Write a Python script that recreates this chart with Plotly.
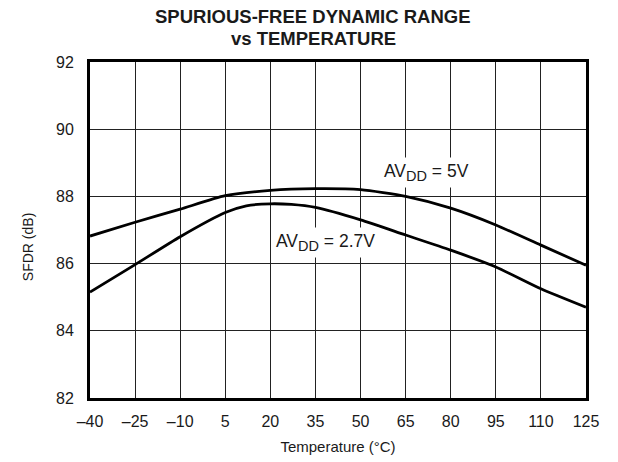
import plotly.graph_objects as go

temps = [-40, -25, -10, 5, 20, 35, 50, 65, 80, 95, 110, 125]
sfdr_5v = [86.82, 87.23, 87.62, 88.02, 88.18, 88.23, 88.2, 88.0, 87.65, 87.15, 86.55, 85.95]
temps_27 = [-40, -25, -10, 5, 12, 20, 27, 35, 50, 65, 80, 95, 110, 125]
sfdr_27v = [85.15, 85.97, 86.8, 87.52, 87.72, 87.78, 87.76, 87.67, 87.3, 86.85, 86.4, 85.9, 85.25, 84.7]

x_ticks = [-40, -25, -10, 5, 20, 35, 50, 65, 80, 95, 110, 125]
x_ticktext = ["–40", "–25", "–10", "5", "20", "35", "50", "65", "80", "95", "110", "125"]
y_ticks = [82, 84, 86, 88, 90, 92]

FONT = "Liberation Sans, Arial, sans-serif"
TXT = "#1a1a1a"

fig = go.Figure()
fig.add_trace(go.Scatter(x=temps, y=sfdr_5v, mode="lines",
                         line=dict(color="black", width=2.8, shape="spline", smoothing=0.6),
                         showlegend=False, hoverinfo="skip"))
fig.add_trace(go.Scatter(x=temps_27, y=sfdr_27v, mode="lines",
                         line=dict(color="black", width=2.8, shape="spline", smoothing=0.6),
                         showlegend=False, hoverinfo="skip"))

SUB = "<sub><span style='font-size:14.5px'>DD</span></sub>"
fig.add_annotation(x=56.5, y=88.72, xref="x", yref="y", xanchor="left", yanchor="middle",
                   text="AV" + SUB + " = 5V", showarrow=False,
                   font=dict(family=FONT, size=17.5, color=TXT), bgcolor="white", borderpad=3)
fig.add_annotation(x=20.4, y=86.62, xref="x", yref="y", xanchor="left", yanchor="middle",
                   text="AV" + SUB + " = 2.7V", showarrow=False,
                   font=dict(family=FONT, size=17.5, color=TXT), bgcolor="white", borderpad=3)

# chart title (two lines)
fig.add_annotation(x=0.4496, y=1.1354, xref="paper", yref="paper", xanchor="center", yanchor="middle",
                   text="<b>SPURIOUS-FREE DYNAMIC RANGE</b>", showarrow=False,
                   font=dict(family=FONT, size=18.5, color=TXT))
fig.add_annotation(x=0.4496, y=1.0705, xref="paper", yref="paper", xanchor="center", yanchor="middle",
                   text="<b>vs TEMPERATURE</b>", showarrow=False,
                   font=dict(family=FONT, size=18.5, color=TXT))
# y-axis title
fig.add_annotation(x=-0.125, y=0.449, xref="paper", yref="paper", xanchor="center", yanchor="middle",
                   text="SFDR (dB)", textangle=-90, showarrow=False,
                   font=dict(family=FONT, size=14, color=TXT))

# page body has an 8px default margin, so figure is 8px smaller and margins shifted
fig.update_layout(
    width=610, height=454,
    margin=dict(l=82, r=32, t=54, b=64, autoexpand=False),
    paper_bgcolor="white", plot_bgcolor="white",
    font=dict(family=FONT, color=TXT),
)
fig.update_xaxes(range=[-40, 125], tickvals=x_ticks, ticktext=x_ticktext,
                 showgrid=True, gridcolor="#222", gridwidth=1,
                 showline=True, linecolor="black", linewidth=3, mirror=True,
                 zeroline=False, ticks="", ticklabelstandoff=7, automargin=False,
                 tickfont=dict(family=FONT, size=16, color=TXT),
                 title=dict(text="Temperature (°C)", font=dict(family=FONT, size=15, color=TXT), standoff=13))
fig.update_yaxes(range=[82, 92], tickvals=y_ticks,
                 showgrid=True, gridcolor="#222", gridwidth=1,
                 showline=True, linecolor="black", linewidth=3, mirror=True,
                 zeroline=False, ticks="", ticklabelstandoff=10, automargin=False,
                 tickfont=dict(family=FONT, size=16, color=TXT))

fig.write_html("out.html")
